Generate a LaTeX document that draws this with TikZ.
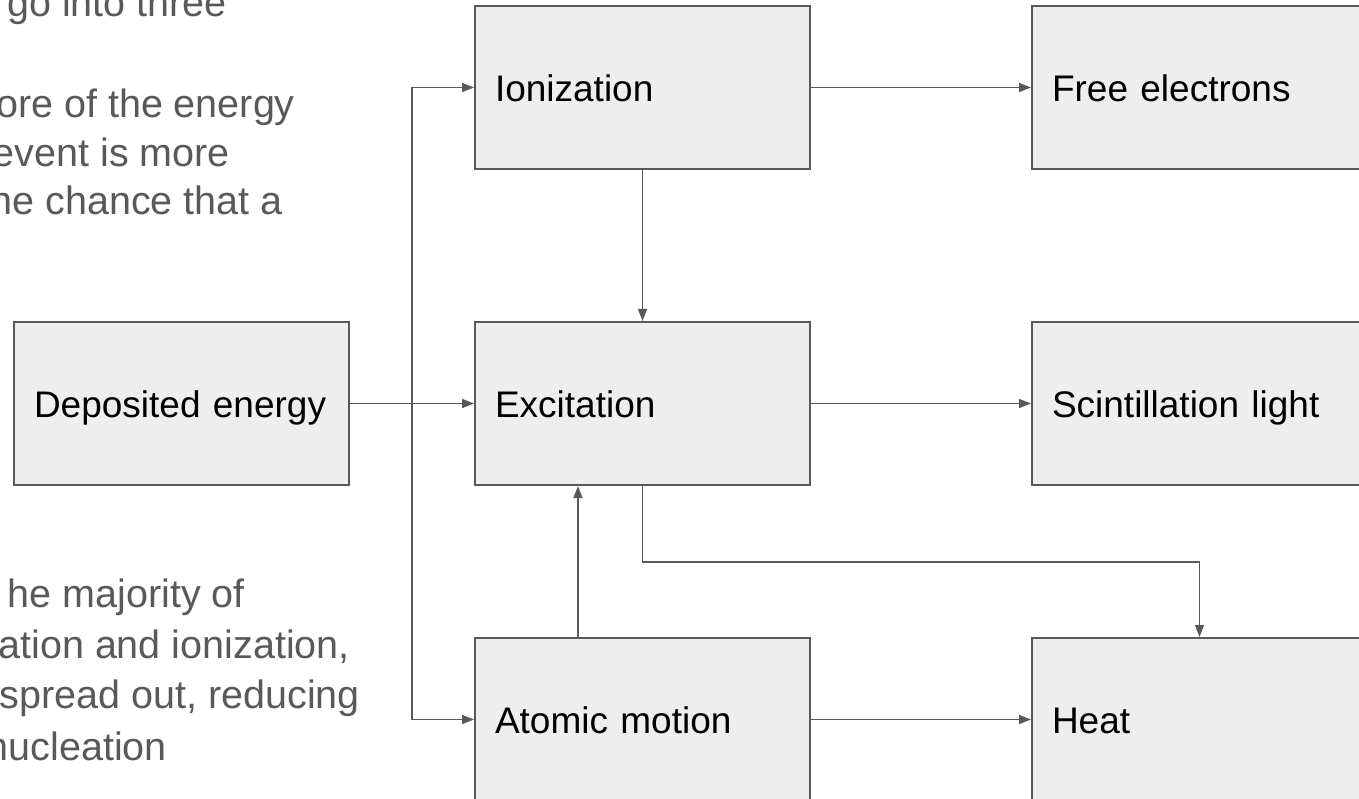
\documentclass[tikz,border=0pt]{standalone}
\usepackage{fontspec}
\setmainfont{Liberation Sans}
\usetikzlibrary{arrows.meta}
\definecolor{linegray}{HTML}{595959}
\definecolor{boxfill}{HTML}{EEEEEE}
\newcommand{\boxstrut}{\rule[-10pt]{0pt}{48pt}}
\begin{document}
\begin{tikzpicture}[x=1pt,y=-1pt,
  procbox/.style={draw=linegray, line width=2pt, fill=boxfill, minimum width=335pt, minimum height=163pt,
    text width=295pt, align=left, inner xsep=20pt, inner ysep=0pt,
    font=\fontsize{37}{43}\selectfont, text=black},
  conn/.style={draw=linegray, line width=1.4pt, -{Triangle[length=12pt,width=9pt]}},
  sidetext/.style={anchor=base east, inner sep=0pt, text=linegray, font=\fontsize{39.5}{46}\selectfont}]
\useasboundingbox (0,0) rectangle (1359,799);
\clip (0,0) rectangle (1359,799);
\fill[white] (0,0) rectangle (1359,799);

% left text fragments
\node[sidetext] (t1) at (227,17) {go into three};
\node[sidetext] (t2) at (295,118) {ore of the energy};
\node[sidetext] (t3) at (230,167) {event is more};
\node[sidetext] (t4) at (283,215) {he chance that a};
\node[sidetext] (t5) at (245,607) {he majority of};
\node[sidetext] (t6) at (350,658) {ation and ionization,};
\node[sidetext] (t7) at (360,708) {spread out, reducing};
\node[sidetext] (t8) at (167,760) {nucleation};

% boxes
\node[procbox] (dep) at (181.5,403.5) {\mbox{\boxstrut Deposited energy}};
\node[procbox] (ion) at (642.5,87.5) {\mbox{\boxstrut Ionization}};
\node[procbox] (exc) at (642.5,403.5) {\mbox{\boxstrut Excitation}};
\node[procbox] (atom) at (642.5,719.5) {\mbox{\boxstrut Atomic motion}};
\node[procbox] (free) at (1199.5,87.5) {\mbox{\boxstrut Free electrons}};
\node[procbox] (scint) at (1199.5,403.5) {\mbox{\boxstrut Scintillation light}};
\node[procbox] (heat) at (1199.5,719.5) {\mbox{\boxstrut Heat}};

% connectors
\coordinate (br) at (412,403.5);
\coordinate (bend) at (642.5,562);
\draw[conn] (dep.east) -- (exc.west);
\draw[conn] (br) |- (ion.west);
\draw[conn] (br) |- (atom.west);
\draw[conn] (ion.east) -- (free.west);
\draw[conn] (exc.east) -- (scint.west);
\draw[conn] (atom.east) -- (heat.west);
\draw[conn] (ion.south) -- (exc.north);
\draw[conn] ([xshift=-64.5pt]atom.north) -- ([xshift=-64.5pt]exc.south);
\draw[conn] (exc.south) -- (bend) -| (heat.north);
\end{tikzpicture}
\end{document}
